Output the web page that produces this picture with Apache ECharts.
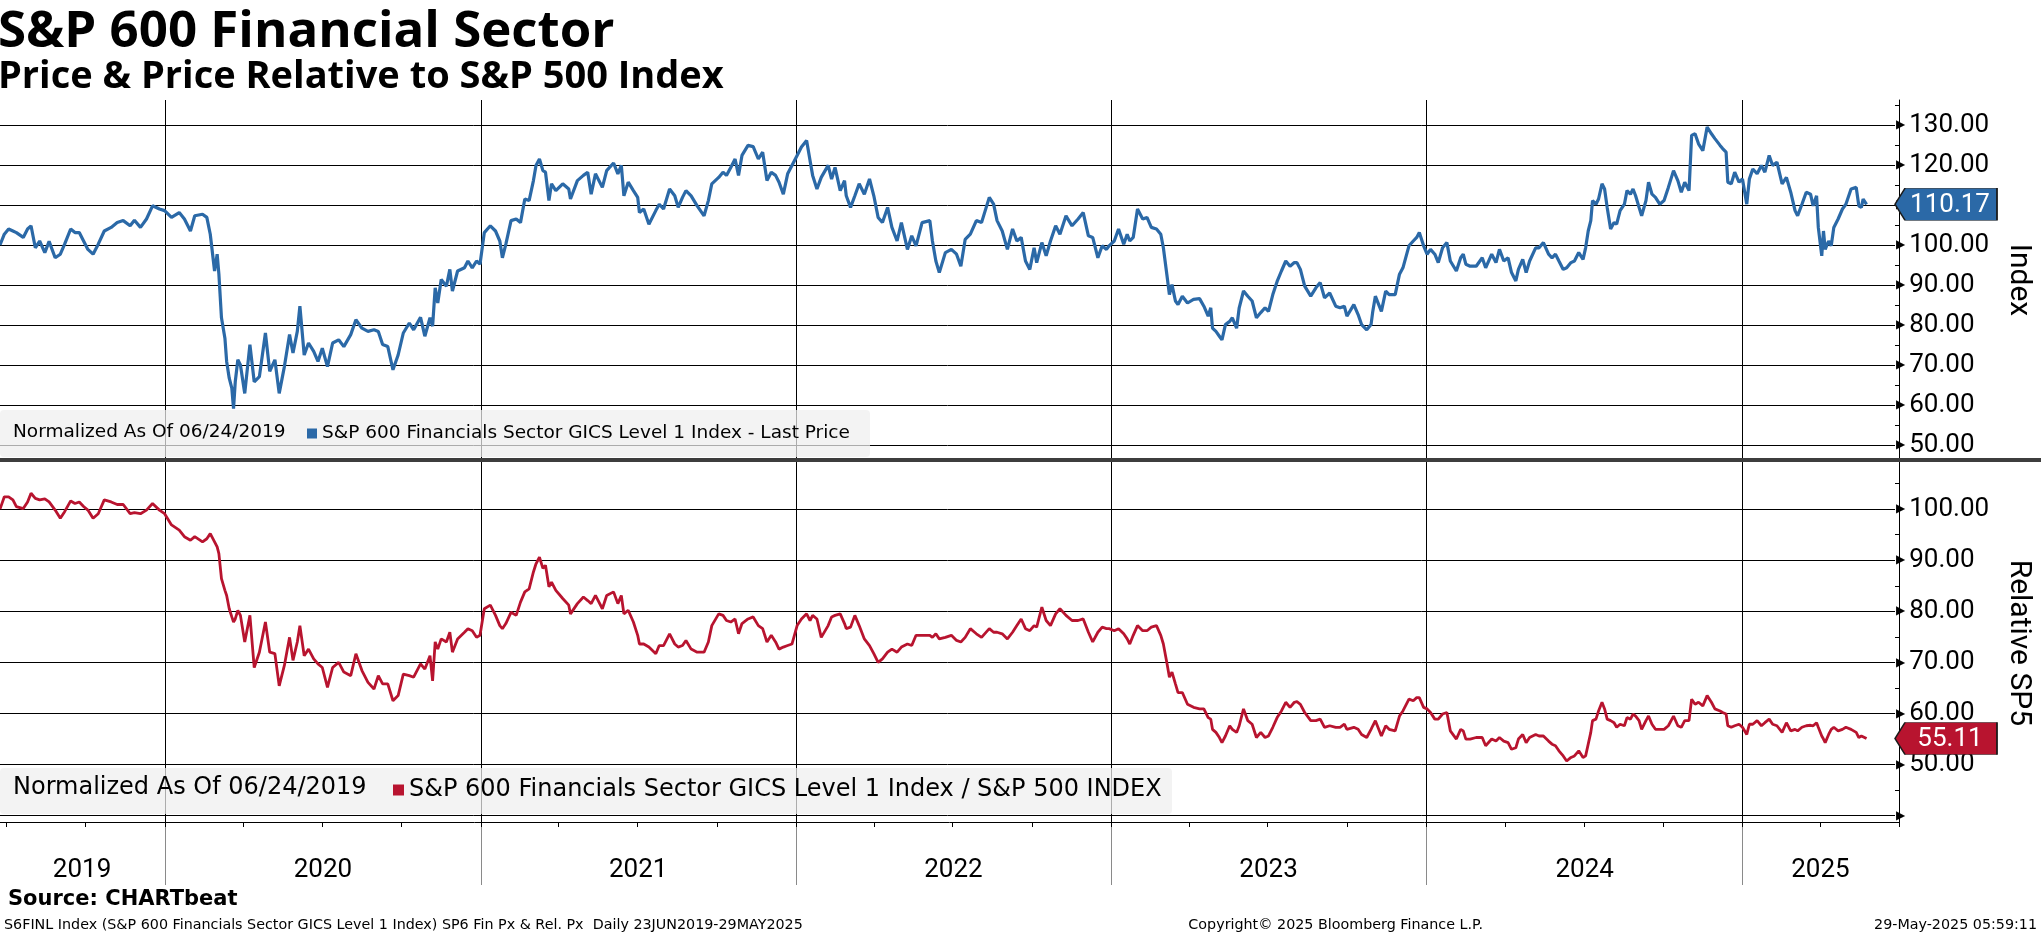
<!DOCTYPE html>
<html><head><meta charset="utf-8">
<script src="https://cdn.jsdelivr.net/npm/echarts@6/dist/echarts.min.js"></script>
<style>html,body{margin:0;padding:0;background:#fff}#c{width:2041px;height:936px}</style>
</head><body><div id="c"></div><script>
// ---------------- data ----------------
const dates = [
'2019-06-24','2019-06-29','2019-07-04','2019-07-09','2019-07-13','2019-07-21','2019-07-26','2019-07-30','2019-08-04','2019-08-09','2019-08-15','2019-08-20','2019-08-27','2019-09-02','2019-09-07','2019-09-14','2019-09-19','2019-09-24','2019-09-29','2019-10-04','2019-10-10','2019-10-16','2019-10-23','2019-10-31','2019-11-07','2019-11-14','2019-11-22','2019-11-27','2019-12-04','2019-12-11','2019-12-18','2019-12-26',
'2020-01-01','2020-01-09','2020-01-18','2020-01-24','2020-01-31','2020-02-05','2020-02-14','2020-02-19','2020-02-23','2020-02-28','2020-03-02','2020-03-04','2020-03-07','2020-03-11','2020-03-13','2020-03-16','2020-03-19','2020-03-21','2020-03-23','2020-03-26','2020-03-29','2020-04-03','2020-04-09','2020-04-14','2020-04-20','2020-04-27','2020-05-02','2020-05-08','2020-05-13','2020-05-19','2020-05-25','2020-05-29','2020-06-03','2020-06-06','2020-06-11','2020-06-16','2020-06-22','2020-06-27','2020-07-02','2020-07-08','2020-07-14','2020-07-21','2020-07-27','2020-08-04','2020-08-10','2020-08-17','2020-08-24','2020-08-31','2020-09-05','2020-09-10','2020-09-16','2020-09-22','2020-09-28','2020-10-04','2020-10-11','2020-10-16','2020-10-24','2020-10-29','2020-11-04','2020-11-07','2020-11-10','2020-11-13','2020-11-17','2020-11-23','2020-11-27','2020-11-30','2020-12-06','2020-12-14','2020-12-18','2020-12-23','2020-12-28',
'2021-01-01','2021-01-06','2021-01-13','2021-01-19','2021-01-24','2021-01-27','2021-01-31','2021-02-06','2021-02-12','2021-02-17','2021-02-22','2021-02-27','2021-03-04','2021-03-07','2021-03-11','2021-03-15','2021-03-18','2021-03-22','2021-03-25','2021-03-30','2021-04-07','2021-04-14','2021-04-16','2021-04-24','2021-05-01','2021-05-06','2021-05-10','2021-05-15','2021-05-23','2021-05-28','2021-06-05','2021-06-10','2021-06-14','2021-06-17','2021-06-22','2021-06-28','2021-07-03','2021-07-05','2021-07-10','2021-07-16','2021-07-24','2021-07-28','2021-08-02','2021-08-09','2021-08-15','2021-08-19','2021-08-24','2021-08-28','2021-09-03','2021-09-10','2021-09-18','2021-09-23','2021-09-27','2021-10-05','2021-10-10','2021-10-14','2021-10-19','2021-10-24','2021-10-28','2021-11-01','2021-11-08','2021-11-14','2021-11-20','2021-11-25','2021-11-30','2021-12-05','2021-12-10','2021-12-14','2021-12-19','2021-12-24','2021-12-29',
'2022-01-04','2022-01-09','2022-01-15','2022-01-19','2022-01-22','2022-01-27','2022-02-01','2022-02-09','2022-02-13','2022-02-17','2022-02-23','2022-02-28','2022-03-02','2022-03-07','2022-03-12','2022-03-17','2022-03-23','2022-03-29','2022-04-03','2022-04-08','2022-04-13','2022-04-19','2022-04-24','2022-04-30','2022-05-05','2022-05-12','2022-05-17','2022-05-22','2022-05-29','2022-06-07','2022-06-10','2022-06-14','2022-06-18','2022-06-25','2022-07-02','2022-07-08','2022-07-13','2022-07-18','2022-07-24','2022-07-31','2022-08-06','2022-08-15','2022-08-20','2022-08-24','2022-08-30','2022-09-05','2022-09-11','2022-09-16','2022-09-21','2022-09-26','2022-10-01','2022-10-06','2022-10-09','2022-10-15','2022-10-20','2022-10-25','2022-10-31','2022-11-05','2022-11-12','2022-11-19','2022-11-26','2022-12-02','2022-12-08','2022-12-13','2022-12-19','2022-12-24','2022-12-29',
'2023-01-01','2023-01-07','2023-01-12','2023-01-18','2023-01-22','2023-01-25','2023-01-29','2023-02-03','2023-02-09','2023-02-14','2023-02-19','2023-02-25','2023-03-02','2023-03-05','2023-03-09','2023-03-12','2023-03-15','2023-03-19','2023-03-22','2023-03-27','2023-04-02','2023-04-09','2023-04-16','2023-04-21','2023-04-26','2023-04-29','2023-05-01','2023-05-05','2023-05-09','2023-05-12','2023-05-16','2023-05-21','2023-05-24','2023-05-29','2023-06-01','2023-06-06','2023-06-11','2023-06-16','2023-06-21','2023-06-26','2023-07-01','2023-07-05','2023-07-10','2023-07-15','2023-07-20','2023-07-25','2023-07-30','2023-08-04','2023-08-07','2023-08-11','2023-08-16','2023-08-23','2023-08-29','2023-09-03','2023-09-08','2023-09-14','2023-09-21','2023-09-26','2023-10-01','2023-10-04','2023-10-12','2023-10-17','2023-10-21','2023-10-27','2023-11-01','2023-11-03','2023-11-06','2023-11-13','2023-11-18','2023-11-22','2023-11-29','2023-12-04','2023-12-08','2023-12-15','2023-12-20','2023-12-24','2023-12-27',
'2024-01-01','2024-01-05','2024-01-09','2024-01-14','2024-01-18','2024-01-23','2024-01-28','2024-02-01','2024-02-08','2024-02-13','2024-02-16','2024-02-19','2024-02-24','2024-03-02','2024-03-09','2024-03-13','2024-03-20','2024-03-25','2024-03-29','2024-04-03','2024-04-08','2024-04-12','2024-04-17','2024-04-20','2024-04-25','2024-04-29','2024-05-03','2024-05-10','2024-05-14','2024-05-19','2024-05-25','2024-05-29','2024-06-02','2024-06-06','2024-06-11','2024-06-15','2024-06-20','2024-06-24','2024-06-29','2024-07-04','2024-07-07','2024-07-10','2024-07-13','2024-07-15','2024-07-19','2024-07-22','2024-07-26','2024-07-29','2024-08-01','2024-08-05','2024-08-09','2024-08-12','2024-08-16','2024-08-21','2024-08-24','2024-08-28','2024-08-31','2024-09-03','2024-09-07','2024-09-10','2024-09-15','2024-09-18','2024-09-22','2024-09-26','2024-10-01','2024-10-06','2024-10-11','2024-10-17','2024-10-22','2024-10-26','2024-10-30','2024-11-04','2024-11-07','2024-11-11','2024-11-15','2024-11-20','2024-11-25','2024-11-30','2024-12-04','2024-12-10','2024-12-13','2024-12-17','2024-12-19','2024-12-23','2024-12-27',
'2025-01-01','2025-01-05','2025-01-10','2025-01-13','2025-01-17','2025-01-22','2025-01-27','2025-01-31','2025-02-05','2025-02-09','2025-02-14','2025-02-20','2025-02-25','2025-03-02','2025-03-07','2025-03-10','2025-03-15','2025-03-20','2025-03-25','2025-03-28','2025-04-01','2025-04-03','2025-04-07','2025-04-09','2025-04-11','2025-04-15','2025-04-18','2025-04-21','2025-04-26','2025-05-01','2025-05-05','2025-05-11','2025-05-17','2025-05-20','2025-05-23','2025-05-25','2025-05-29'
];
const price = [
100,102.7,104,103.5,103.1,101.9,104,104.8,99.3,101,98.1,100.9,96.8,97.7,100.2,104,103.1,103.1,101,98.9,97.7,100.2,103.5,104.4,105.6,106.1,104.8,106.2,104.4,106.5,109.8,109,
108.6,106.9,108.1,106.5,103.5,107.3,107.7,106.9,102.7,93.5,97.7,92.7,81.8,76.7,70.9,66.7,64.2,59.1,65.8,71.3,70,62.9,75.1,65.8,67.1,78,68.4,71.3,62.9,69.6,77.6,73,78.4,84.7,72.5,75.5,73.4,70.9,74.2,69.6,75.5,76.3,74.6,77.6,81.3,79.2,78.4,78.8,78.4,75.1,74.6,68.8,72.5,78,80.5,78.8,81.9,77.2,81.8,79.7,89.3,85.5,91.4,89.7,93.9,88.5,93.5,94.3,96,94.3,96,
95.2,103.1,104.8,103.5,101,96.8,100.2,106.1,106.5,105.6,111.5,111.1,116.1,119.9,121.5,118.6,118.2,111.1,115.3,113.6,115.3,114,111.5,116.1,117.4,118.2,112.7,117.8,114.4,118.6,120.5,117.8,119.9,112.3,115.7,113.6,111.9,108.1,109,105.2,108.6,110.2,109,114,112.3,109.4,111.9,113.6,112.3,109.8,107.3,111.1,115.3,116.9,118.2,117.4,119.4,121.5,117.4,122.4,124.9,124.6,121.5,123.2,116.1,118.2,117.4,115.7,112.7,117.8,119.9,
122.4,124.5,126.1,121.1,117.4,114,116.9,119.9,116.5,119.4,113.6,116.1,112.3,109.4,112.3,115.3,112.7,116.5,112.3,106.9,105.6,109.4,104.4,101,105.6,98.9,102.3,99.8,105.6,106.1,101,96,93.1,98.1,98.9,97.7,94.7,101.4,102.7,106.1,105.6,111.9,110.2,106.1,103.5,98.9,104,101,101.9,96,93.9,99.3,95.6,100.6,97.3,101,104.8,102.7,107.3,104.8,106.5,108.1,102.3,101.9,96.8,99.8,98.9,
99.8,101,104,100.2,102.7,101,101.9,109,106.5,106.9,104.4,104,102.7,99.3,92.7,87.6,90.1,86,85.1,87.2,85.5,86.4,86.6,84.7,82.2,84.3,79.2,78.4,77.2,76.3,80.1,80.9,81.8,79.2,84.3,88.5,87.2,86,81.8,83.1,84.3,83.4,87.6,90.9,93.5,96,94.7,95.6,95.6,93.9,89.7,87.2,89.3,90.6,86.8,88,84.7,84.3,84.7,82.2,85.1,82.6,80.1,78.8,80.1,83.4,87.2,83.4,88.5,87.6,87.6,92.7,94.3,99.8,101,101.9,103.1,
99.8,97.7,98.9,97.7,95.6,99.3,100.6,96,93.5,96.8,97.7,95.2,94.7,94.7,96.8,94.3,97.7,95.6,98.9,96,96.8,93.1,91,93.9,96.4,93.1,96,99.3,99.3,100.6,97.7,96.8,97.7,96,93.9,94.3,95.6,96,98.1,96.4,99.3,103.5,106.1,111.1,110.2,111.5,115.3,114,109.4,104,105.6,105.2,108.6,110.2,113.6,112.7,114,112.3,109.4,107.3,111.1,115.7,112.7,111.9,110.2,111.1,114.4,118.6,116.1,113.2,115.7,113.6,127.4,127.8,125.3,123.6,129.5,127.8,126.6,124.9,124.1,123.2,115.7,115.3,118.2,
115.7,116.5,110.2,116.5,119,117.8,119.9,118.2,122.4,119.9,120.7,115.3,116.9,113.2,108.6,107.3,110.2,113.2,112.7,109.8,112.3,104.4,97.3,103.5,98.9,101,99.8,104.4,106.5,109,110.2,114,114.4,109.8,109.4,111.5,110.17
];
const relative = [
100,102.4,102.4,101.8,100.5,100.1,101.4,103.1,102.1,101.8,102,101.4,99.8,98.2,99.5,101.6,101.1,101.4,100.5,99.8,98.2,99.1,101.8,101.4,100.9,100.9,99.1,99.3,99.1,99.8,101.1,99.8,
99.1,96.9,95.9,94.6,93.9,94.6,93.6,94.2,95.2,93.6,92.6,91.3,86.4,84.1,83.1,80.5,78.9,77.9,78.5,80.2,79.2,74,79.2,69,72,77.9,72,71.7,65.4,69.4,74.9,70.4,74,77.2,71.3,72.6,70.7,69.7,69,65.1,69,70,68.1,67.4,71.7,68.4,66.1,64.8,67.4,65.8,65.8,62.5,63.5,67.7,67.4,67.1,69.7,68.7,71.3,66.4,74,72.6,74.6,74,75.9,72,74.6,75.9,76.6,76.2,74.9,
75.3,80.5,81.2,79.2,77.2,76.6,77.6,79.8,79.2,81.8,83.8,84.4,87.7,89.3,90.6,88.4,89,84.8,85.7,84.1,82.5,81.2,79.5,81.5,82.8,82.1,81.5,83.1,80.5,83.1,83.8,81.5,83.1,79.5,80.2,77.9,75.3,73.6,73.6,73,71.7,73.3,73.3,75.6,73.6,73,73.3,74.3,72.6,72,72,74,77.2,79.5,79.2,78.2,77.9,78.5,75.6,77.6,78.5,78.9,77.2,76.6,74,75.3,74,72.6,73,73.3,73.6,
77.2,78.5,79.5,78.2,79.2,78.5,74.9,77.2,78.9,79.2,79.5,77.6,76.6,76.9,79.2,77.2,74.6,73.3,71.7,70,70.7,72,72.6,72,73,73.6,73.3,75.3,75.3,75.3,74.9,75.6,74.6,74.9,75.3,74.3,74,74.9,76.6,75.6,74.9,76.6,75.9,75.9,75.6,74.6,75.9,77.2,78.5,76.6,76.2,77.2,76.9,80.8,78.2,77.2,79.5,80.5,79.2,78.2,78.2,78.5,75.9,74,75.9,76.9,76.6,
76.6,76.2,76.6,75.6,74.6,73.6,75.3,77.2,76.2,76.2,76.9,77.2,75.3,73.6,70,67.1,68.1,65.8,64.1,64.1,61.8,61.2,60.9,60.9,59.2,58.9,56.9,56.3,55.3,54.3,55.6,57.6,56.9,56.3,57.6,60.9,58.6,57.9,55.3,56.3,55.3,55.6,57.3,59.2,60.5,62.2,61.2,62.2,62.3,61.8,60.2,58.6,58.6,58.9,57.3,57.6,57.3,57.3,57.9,56.9,57.3,56.9,55.9,55.3,56.9,57.6,58.6,55.6,57.6,56.9,56.6,59.5,60.5,62.8,62.5,63.1,63.1,
61.2,60.9,60.2,58.9,58.9,59.9,60.2,56.6,55,56.9,56.6,55,55,55.3,55.3,53.7,55,54.6,55.3,54.6,54.3,53,53.3,55,55.9,54.3,55.3,55.9,55.6,55.6,54.6,54,53.7,52.7,51.7,50.7,51.4,51.7,52.7,51.4,51.7,54,56.3,58.6,58.9,60.5,62.2,60.9,58.9,58.6,58.2,57.3,57.9,57.6,59.2,58.9,59.9,59.5,58.6,56.9,58.6,59.5,57.9,56.9,56.9,56.9,57.6,59.5,57.6,57.3,58.6,58.6,62.8,61.8,62.2,61.5,63.5,62.2,60.9,60.5,60.2,59.9,57.6,57.3,57.6,
57.9,57.3,55.9,57.9,57.9,58.6,57.6,58.2,58.9,57.9,57.6,56.3,58.2,56.6,56.9,56.6,57.3,57.6,57.7,57.6,58.2,57.3,55.6,55,54.3,55.9,56.9,57.3,56.6,56.9,57.3,56.9,56.3,55.3,55.6,55.3,55.11
];
const yearStarts = ['2020-01-01','2021-01-01','2022-01-01','2023-01-01','2024-01-01','2025-01-01'];
const quarterTicks = ['2019-07-01','2019-10-01',
 '2020-01-01','2020-04-01','2020-07-01','2020-10-01','2021-01-01','2021-04-01','2021-07-01','2021-10-01',
 '2022-01-01','2022-04-01','2022-07-01','2022-10-01','2023-01-01','2023-04-01','2023-07-01','2023-10-01',
 '2024-01-01','2024-04-01','2024-07-01','2024-10-01','2025-01-01','2025-04-01','2025-07-01'];
const yearLabelDates = ['2019-09-27','2020-07-02','2021-07-02','2022-07-02','2023-07-02','2024-07-02','2025-04-01'];
const xStart = '2019-06-24', xEnd = '2025-07-01';
const priceAxis = {min: 50, max: 140, interval: 10};
const relAxis = {min: 40, max: 110, interval: 10};
const nameP = 'S&P 600 Financials Sector GICS Level 1 Index - Last Price';
const nameR = 'S&P 600 Financials Sector GICS Level 1 Index / S&P 500 INDEX';

// ---------------- chart ----------------
function ts(s){ const p = s.split('-').map(Number); return new Date(p[0], p[1]-1, p[2]).getTime(); }
const X0 = ts(xStart), X1 = ts(xEnd);
const BLUE = '#2b69a7', RED = '#b8142f';
const SANS = 'DejaVu Sans';
const chart = echarts.init(document.getElementById('c'), null, {renderer: 'canvas'});

const rich = {
  a: {fontFamily: 'DejaVu Sans', fontSize: 12, color: '#000', padding: [0, 4, 0, 0], verticalAlign: 'middle'},
  b: {fontFamily: 'Roboto', fontSize: 26, color: '#000', verticalAlign: 'middle'}
};
function tag(color, value){
  return {
    symbol: 'path://M0,16L10,0L102,0L102,32L10,32Z',
    symbolSize: [102, 32], symbolOffset: ['50%', 0], symbolKeepAspect: false, silent: true,
    itemStyle: {color: color, borderColor: '#1a1a1a', borderWidth: 1},
    label: {show: true, position: 'inside', offset: [4, 1], color: '#fff', fontFamily: 'Roboto', fontSize: 26,
            formatter: () => value.toFixed(2)},
    data: [{coord: [X1, value], value: value}]
  };
}
const hiddenX = (grid) => ({type: 'time', gridIndex: grid, min: X0, max: X1, show: false});

const option = {
  animation: false,
  backgroundColor: '#fff',
  title: {
    text: 'S&P 600 Financial Sector', subtext: 'Price & Price Relative to S&P 500 Index',
    left: -2, top: 7, padding: 0, itemGap: 0,
    textStyle: {fontFamily: 'Open Sans', fontWeight: 'bold', fontSize: 51, color: '#000'},
    subtextStyle: {fontFamily: 'Open Sans', fontWeight: 'bold', fontSize: 38, color: '#000'}
  },
  grid: [
    {left: 0, right: 142, top: 100, height: 722},     // frame
    {left: 0, right: 142, top: 85, height: 360},      // price panel
    {left: 0, right: 142, top: 458, height: 357.7},   // relative panel
    {left: 0, right: 142, top: 822, height: 63}       // year label strip
  ],
  xAxis: [
    {type: 'time', gridIndex: 0, min: X0, max: X1, position: 'bottom',
     axisLine: {show: true, lineStyle: {color: '#000', width: 1}},
     axisTick: {show: true, customValues: quarterTicks.map(ts), length: 5, lineStyle: {color: '#000'}},
     axisLabel: {show: false}, splitLine: {show: false}},
    {type: 'time', gridIndex: 0, min: X0, max: X1, position: 'top',
     axisLine: {show: false}, axisTick: {show: false, customValues: yearStarts.map(ts)},
     axisLabel: {show: false}, splitLine: {show: true, lineStyle: {color: '#000', width: 1}}},
    hiddenX(1), hiddenX(2),
    {type: 'value', gridIndex: 3, min: X0, max: X1, position: 'top',
     axisLine: {show: false}, axisTick: {show: false, customValues: yearStarts.map(ts)},
     splitLine: {show: true, lineStyle: {color: '#8a8a8a', width: 1}},
     axisLabel: {show: true, inside: true, margin: 35, customValues: yearLabelDates.map(ts),
       formatter: v => String(new Date(v).getFullYear()), fontFamily: 'Roboto', fontSize: 26, color: '#000'}}
  ],
  yAxis: [
    {type: 'value', gridIndex: 0, position: 'right', min: 0, max: 1,
     axisLine: {show: true, lineStyle: {color: '#000', width: 1}}, axisTick: {show: false},
     axisLabel: {show: false}, splitLine: {show: false}},
    {type: 'value', gridIndex: 1, position: 'right', min: priceAxis.min, max: priceAxis.max, interval: priceAxis.interval,
     axisLine: {show: false}, axisTick: {show: false},
     minorTick: {show: true, splitNumber: 2, length: 5, lineStyle: {color: '#000'}},
     splitLine: {show: true, showMaxLine: false, lineStyle: {color: '#000', width: 1}},
     axisLabel: {margin: 1, rich: rich, formatter: v => v >= priceAxis.max ? '' : '{a|▶}{b|' + v.toFixed(2) + '}'},
     name: 'Index', nameLocation: 'middle', nameRotate: -90, nameGap: 108,
     nameTextStyle: {fontFamily: 'Roboto', fontSize: 30, color: '#000', padding: [0, 0, 0, 30]}},
    {type: 'value', gridIndex: 2, position: 'right', min: relAxis.min, max: relAxis.max, interval: relAxis.interval,
     axisLine: {show: false}, axisTick: {show: false},
     minorTick: {show: true, splitNumber: 2, length: 5, lineStyle: {color: '#000'}},
     splitLine: {show: true, showMaxLine: false, lineStyle: {color: '#000', width: 1}},
     axisLabel: {margin: 1, rich: rich, formatter: v => v >= relAxis.max ? '' : (v <= relAxis.min ? '{a|▶}' : '{a|▶}{b|' + v.toFixed(2) + '}')},
     name: 'Relative SP5', nameLocation: 'middle', nameRotate: -90, nameGap: 108,
     nameTextStyle: {fontFamily: 'Roboto', fontSize: 30, color: '#000', padding: [0, 0, 0, 12]}},
    {type: 'value', gridIndex: 3, show: false, min: 0, max: 1}
  ],
  legend: [
    {data: [nameP], left: 307, top: 424, icon: 'rect', itemWidth: 10, itemHeight: 10, padding: 0, z: 20,
     selectedMode: false, textStyle: {fontFamily: SANS, fontSize: 18.5, color: '#000'}},
    {data: [nameR], left: 393, top: 778, icon: 'rect', itemWidth: 11, itemHeight: 11, padding: 0, z: 20,
     selectedMode: false, textStyle: {fontFamily: SANS, fontSize: 24, color: '#000'}}
  ],
  series: [
    {name: nameP, type: 'line', xAxisIndex: 2, yAxisIndex: 1, showSymbol: false, symbol: 'none',
     lineStyle: {color: BLUE, width: 3.2}, itemStyle: {color: BLUE},
     data: dates.map((d, i) => [ts(d), price[i]]), markPoint: tag(BLUE, price[price.length - 1])},
    {name: nameR, type: 'line', xAxisIndex: 3, yAxisIndex: 2, showSymbol: false, symbol: 'none',
     lineStyle: {color: RED, width: 2.8}, itemStyle: {color: RED},
     data: dates.map((d, i) => [ts(d), relative[i]]), markPoint: tag(RED, relative[relative.length - 1])}
  ],
  graphic: [
    {type: 'rect', z: 10, shape: {x: 0, y: 410, width: 870, height: 47, r: 4}, style: {fill: 'rgba(238,238,238,0.72)'}},
    {type: 'text', z: 20, left: 13, top: 423, style: {text: 'Normalized As Of 06/24/2019', font: '18.5px "DejaVu Sans"', fill: '#000'}},
    {type: 'rect', z: 10, shape: {x: 0, y: 768, width: 1172, height: 46, r: 4}, style: {fill: 'rgba(238,238,238,0.72)'}},
    {type: 'text', z: 20, left: 13, top: 776, style: {text: 'Normalized As Of 06/24/2019', font: '24px "DejaVu Sans"', fill: '#000'}},
    {type: 'rect', z: 30, shape: {x: 0, y: 458, width: 2041, height: 4}, style: {fill: '#3d3d3d'}},
    {type: 'text', z: 20, left: 8, top: 889, style: {text: 'Source: CHARTbeat', font: 'bold 21px "DejaVu Sans"', fill: '#000'}},
    {type: 'text', z: 20, left: 4, top: 918, style: {text: 'S6FINL Index (S&P 600 Financials Sector GICS Level 1 Index) SP6 Fin Px & Rel. Px  Daily 23JUN2019-29MAY2025', font: '14.3px "DejaVu Sans"', fill: '#000'}},
    {type: 'text', z: 20, right: 558, top: 918, style: {text: 'Copyright\u00a9 2025 Bloomberg Finance L.P.', font: '14.3px "DejaVu Sans"', fill: '#000'}},
    {type: 'text', z: 20, right: 4, top: 918, style: {text: '29-May-2025 05:59:11', font: '14.3px "DejaVu Sans"', fill: '#000'}}
  ]
};
chart.setOption(option);
</script></body></html>
